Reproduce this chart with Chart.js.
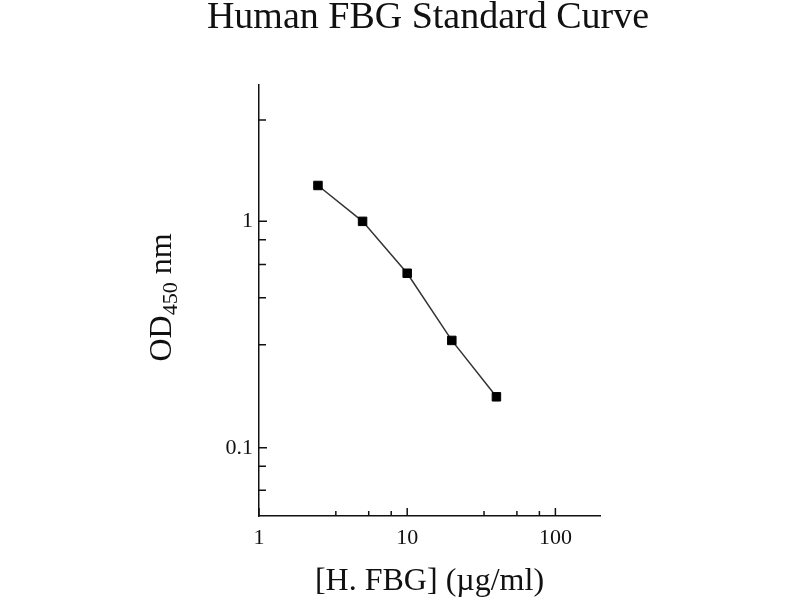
<!DOCTYPE html>
<html>
<head>
<meta charset="utf-8">
<script src="https://cdn.jsdelivr.net/npm/chart.js@4.4.1/dist/chart.umd.min.js"></script>
<style>
html,body{margin:0;padding:0;background:#fff;}
#wrap{width:800px;height:600px;position:relative;}
</style>
</head>
<body>
<div id="wrap"><canvas id="c" width="800" height="600"></canvas></div>
<script>
// Data
const concentrations = [2.5, 5, 10, 20, 40];          // µg/ml
const odValues = [1.44, 1.0, 0.59, 0.298, 0.168];     // OD450
const xMajorTicks = [1, 10, 100];
const xTickLabels = ['1', '10', '100'];
const xMinorTicks = [3.3, 5.5, 7.8, 33, 55, 78];
const yMajorTicks = [0.1, 1];
const yTickLabels = ['0.1', '1'];
const yMinorTicks = [0.065, 0.083, 0.285, 0.46, 0.645, 0.83, 2.8];
const chartTitle = 'Human FBG Standard Curve';
const xTitle = '[H. FBG] (\u00b5g/ml)';
const yTitleMain = 'OD';
const yTitleSub = '450';
const yTitleTail = ' nm';

const FONT = '"Liberation Serif", "Times New Roman", serif';

const decorPlugin = {
  id: 'decor',
  afterDraw(chart) {
    const ctx = chart.ctx;
    const xs = chart.scales.x, ys = chart.scales.y;
    const area = chart.chartArea;
    ctx.save();
    ctx.strokeStyle = '#111';
    ctx.lineWidth = 1.5;
    // inward ticks
    ctx.beginPath();
    xMajorTicks.forEach(v => { const p = xs.getPixelForValue(v); ctx.moveTo(p, area.bottom); ctx.lineTo(p, area.bottom - 8); });
    xMinorTicks.forEach(v => { const p = xs.getPixelForValue(v); ctx.moveTo(p, area.bottom); ctx.lineTo(p, area.bottom - 5); });
    yMajorTicks.forEach(v => { const p = ys.getPixelForValue(v); ctx.moveTo(area.left, p); ctx.lineTo(area.left + 8, p); });
    yMinorTicks.forEach(v => { const p = ys.getPixelForValue(v); ctx.moveTo(area.left, p); ctx.lineTo(area.left + 7, p); });
    ctx.stroke();
    // title
    ctx.fillStyle = '#111';
    ctx.textAlign = 'center';
    ctx.textBaseline = 'alphabetic';
    ctx.font = '38px ' + FONT;
    ctx.fillText(chartTitle, 428, 28);
    // x title
    ctx.font = '32px ' + FONT;
    ctx.fillText(xTitle, (area.left + area.right) / 2, 590);
    // y title rotated with subscript
    ctx.translate(171, (area.top + area.bottom) / 2 - 3);
    ctx.rotate(-Math.PI / 2);
    ctx.textAlign = 'left';
    const mainFont = '32px ' + FONT, subFont = '22px ' + FONT;
    ctx.font = mainFont; const w1 = ctx.measureText(yTitleMain).width; const w3 = ctx.measureText(yTitleTail).width;
    ctx.font = subFont; const w2 = ctx.measureText(yTitleSub).width;
    let x0 = -(w1 + w2 + w3) / 2;
    ctx.font = mainFont; ctx.fillText(yTitleMain, x0, 0);
    ctx.font = subFont; ctx.fillText(yTitleSub, x0 + w1, 6);
    ctx.font = mainFont; ctx.fillText(yTitleTail, x0 + w1 + w2, 0);
    ctx.restore();
  }
};

new Chart(document.getElementById('c'), {
  type: 'scatter',
  data: {
    datasets: [{
      data: concentrations.map((x, i) => ({x: x, y: odValues[i]})),
      showLine: true,
      borderColor: '#333',
      borderWidth: 1.5,
      pointStyle: 'rect',
      pointRadius: 6,
      pointBorderWidth: 1,
      pointBackgroundColor: '#000',
      pointBorderColor: '#000',
      tension: 0
    }]
  },
  options: {
    responsive: false,
    animation: false,
    layout: { padding: { top: 85, right: 200, left: 0, bottom: 0 } },
    plugins: { legend: { display: false }, tooltip: { enabled: false } },
    scales: {
      x: {
        type: 'logarithmic', min: 1, max: 200,
        afterBuildTicks: s => { s.ticks = xMajorTicks.map(v => ({value: v})); },
        afterFit: s => { s.height = 84; },
        grid: { display: false, drawTicks: false },
        border: { display: true, color: '#111', width: 1.5 },
        ticks: {
          padding: 9, color: '#111', font: { family: FONT, size: 22 },
          maxRotation: 0, autoSkip: false,
          callback: (v) => xTickLabels[xMajorTicks.indexOf(v)] ?? ''
        }
      },
      y: {
        type: 'logarithmic', min: 0.05, max: 4,
        afterBuildTicks: s => { s.ticks = yMajorTicks.map(v => ({value: v})); },
        afterFit: s => { s.width = 259; },
        grid: { display: false, drawTicks: false },
        border: { display: true, color: '#111', width: 1.5 },
        ticks: {
          padding: 6, color: '#111', font: { family: FONT, size: 22 },
          autoSkip: false,
          callback: (v) => yTickLabels[yMajorTicks.indexOf(v)] ?? ''
        }
      }
    }
  },
  plugins: [decorPlugin]
});
</script>
</body>
</html>
